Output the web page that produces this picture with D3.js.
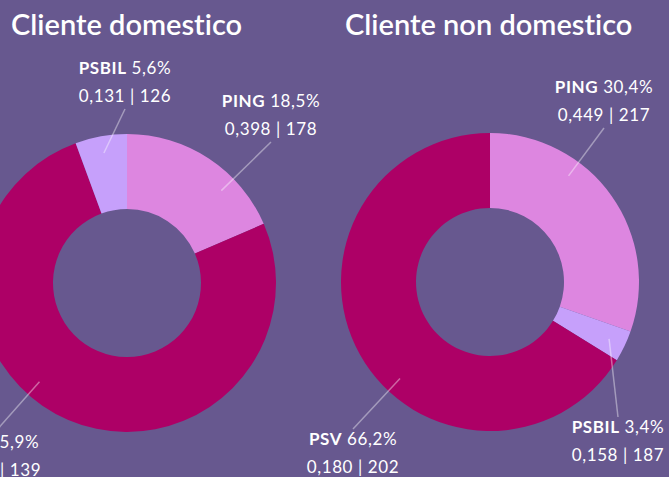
<!DOCTYPE html>
<html>
<head>
<meta charset="utf-8">
<script src="https://cdn.jsdelivr.net/npm/d3@7"></script>
<style>
  html, body { margin: 0; padding: 0; background: #67588f; overflow: hidden; }
  svg { display: block; font-family: Lato, "Open Sans", sans-serif; font-variant-ligatures: none; }
  .title { fill: #fff; font-size: 29px; font-weight: 600; }
  .lab { fill: #fff; font-size: 17px; letter-spacing: 0.6px; }
  .lab .name { font-weight: 700; }
  .leader { stroke: #fff; stroke-opacity: 0.4; stroke-width: 1.5; fill: none; }
</style>
</head>
<body>
<div id="chart"></div>
<script>
// Cliente domestico (clockwise from 12 o'clock)
const domesticoCategories = ['PING', 'PSV', 'PSBIL'];
const domesticoShare = [18.5, 75.9, 5.6];
const domesticoIndex = ['0,398', '0,153', '0,131'];
const domesticoCount = [178, 139, 126];

// Cliente non domestico
const nonDomesticoCategories = ['PING', 'PSBIL', 'PSV'];
const nonDomesticoShare = [30.4, 3.4, 66.2];
const nonDomesticoIndex = ['0,449', '0,158', '0,180'];
const nonDomesticoCount = [217, 187, 202];

const colors = { PING: '#dd86e0', PSV: '#ad0066', PSBIL: '#c6a0fb' };

const width = 669, height = 477;
const outerR = 149, innerR = 74;

const svg = d3.select('#chart').append('svg')
  .attr('width', width)
  .attr('height', height);

svg.append('rect').attr('width', width).attr('height', height).attr('fill', '#67588f');

// label spots (centre x, first baseline y) per chart, by category
const charts = [
  {
    title: 'Cliente domestico', titleX: 11, cx: 127, cy: 283,
    cats: domesticoCategories, share: domesticoShare, idx: domesticoIndex, cnt: domesticoCount,
    spots: { PING: [271, 107], PSV: [-5, 448], PSBIL: [125, 74] }
  },
  {
    title: 'Cliente non domestico', titleX: 345, cx: 490, cy: 282,
    cats: nonDomesticoCategories, share: nonDomesticoShare, idx: nonDomesticoIndex, cnt: nonDomesticoCount,
    spots: { PING: [604, 93], PSV: [353, 445], PSBIL: [618, 433] }
  }
];

const fmt = v => d3.format('.1f')(v).replace('.', ',') + '%';

const pie = d3.pie().sort(null).value(d => d.share);
const arc = d3.arc().innerRadius(innerR).outerRadius(outerR);

charts.forEach(c => {
  svg.append('text')
    .attr('class', 'title')
    .attr('x', c.titleX)
    .attr('y', 35)
    .text(c.title);

  const rows = c.cats.map((k, i) => ({ key: k, share: c.share[i], idx: c.idx[i], cnt: c.cnt[i] }));
  const g = svg.append('g').attr('transform', `translate(${c.cx},${c.cy})`);

  const arcs = pie(rows);
  g.selectAll('path')
    .data(arcs)
    .join('path')
    .attr('d', arc)
    .attr('fill', d => colors[d.data.key]);

  arcs.forEach(a => {
    const [lx, ly] = c.spots[a.data.key];
    const above = ly < c.cy;
    // outer end of the leader line, next to the label
    const ox = lx - c.cx;
    const oy = (above ? ly + 35 : ly - 16) - c.cy;
    let ang = Math.atan2(ox, -oy);
    if (ang < 0) ang += 2 * Math.PI;
    const half = (a.endAngle - a.startAngle) / 2;
    const pad = Math.min(half, 12 * Math.PI / 180);
    ang = Math.max(a.startAngle + pad, Math.min(a.endAngle - pad, ang));
    const ir = 132;
    g.append('line')
      .attr('class', 'leader')
      .attr('x1', ox).attr('y1', oy)
      .attr('x2', ir * Math.sin(ang)).attr('y2', -ir * Math.cos(ang));

    const t = svg.append('text').attr('class', 'lab').attr('text-anchor', 'middle');
    const l1 = t.append('tspan').attr('x', lx).attr('y', ly);
    l1.append('tspan').attr('class', 'name').text(a.data.key);
    l1.append('tspan').text(' ' + fmt(a.data.share));
    t.append('tspan').attr('x', lx).attr('y', ly + 28).text(a.data.idx + ' | ' + a.data.cnt);
  });
});
</script>
</body>
</html>
